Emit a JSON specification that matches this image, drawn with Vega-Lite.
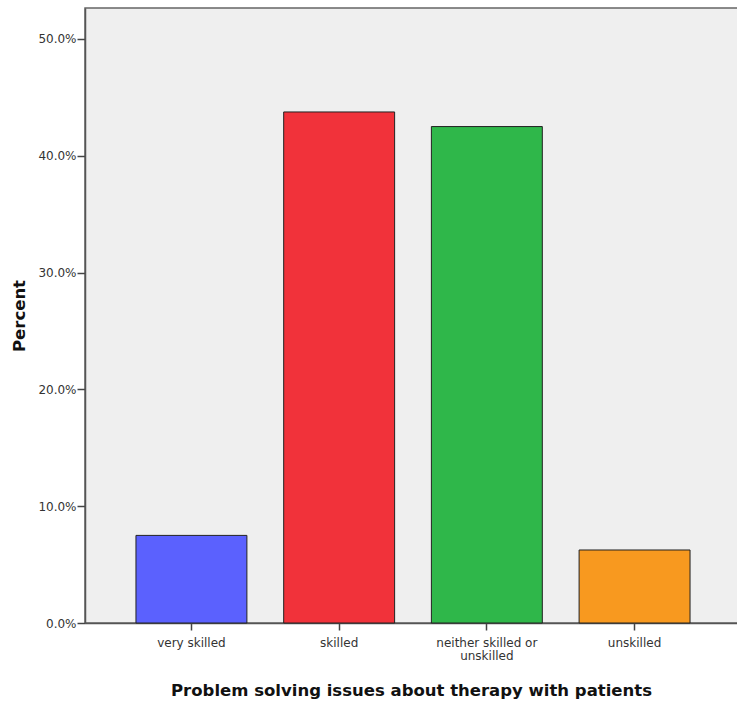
{
  "$schema": "https://vega.github.io/schema/vega-lite/v6.json",
  "width": 656,
  "height": 615,
  "autosize": {"type": "none"},
  "padding": {"left": 85, "top": 8, "right": 0, "bottom": 82},
  "background": "white",
  "config": {
    "view": {"fill": "#efefef", "stroke": "#666666", "strokeWidth": 1.5},
    "font": "DejaVu Sans"
  },
  "data": {
    "values": [
      {"category": "very skilled", "percent": 7.5},
      {"category": "skilled", "percent": 43.75},
      {"category": "neither skilled or unskilled", "percent": 42.5},
      {"category": "unskilled", "percent": 6.25}
    ]
  },
  "mark": {"type": "bar", "stroke": "#222222", "strokeWidth": 1},
  "encoding": {
    "x": {
      "field": "category",
      "type": "nominal",
      "sort": null,
      "scale": {"paddingInner": 0.249, "paddingOuter": 0.345},
      "axis": {
        "title": "Problem solving issues about therapy with patients",
        "titleFont": "DejaVu Sans",
        "titleFontSize": 16.5,
        "titleFontWeight": "bold",
        "titleColor": "#111111",
        "titlePadding": 21,
        "titleX": 326,
        "labelAngle": 0,
        "labelFont": "DejaVu Sans",
        "labelFontSize": 12,
        "labelColor": "#333333",
        "labelPadding": 7,
        "labelLineHeight": 13,
        "labelExpr": "datum.label == 'neither skilled or unskilled' ? ['neither skilled or', 'unskilled'] : datum.label",
        "tickSize": 7,
        "tickColor": "#444444",
        "tickWidth": 1.5,
        "domainColor": "#555555",
        "domainWidth": 1.5
      }
    },
    "y": {
      "field": "percent",
      "type": "quantitative",
      "scale": {"domain": [0, 52.65], "nice": false},
      "axis": {
        "title": "Percent",
        "titleFont": "DejaVu Sans",
        "titleFontSize": 16.5,
        "titleFontWeight": "bold",
        "titleColor": "#111111",
        "titlePadding": 10,
        "values": [0, 10, 20, 30, 40, 50],
        "labelExpr": "format(datum.value, '.1f') + '%'",
        "labelFont": "DejaVu Sans",
        "labelFontSize": 12,
        "labelColor": "#333333",
        "labelPadding": 1,
        "tickSize": 8,
        "tickColor": "#444444",
        "tickWidth": 1.5,
        "grid": false,
        "domainColor": "#555555",
        "domainWidth": 1.5
      }
    },
    "color": {
      "field": "category",
      "type": "nominal",
      "sort": null,
      "scale": {
        "domain": ["very skilled", "skilled", "neither skilled or unskilled", "unskilled"],
        "range": ["#5b61fe", "#f1323a", "#2fb74a", "#f8991f"]
      },
      "legend": null
    }
  }
}
